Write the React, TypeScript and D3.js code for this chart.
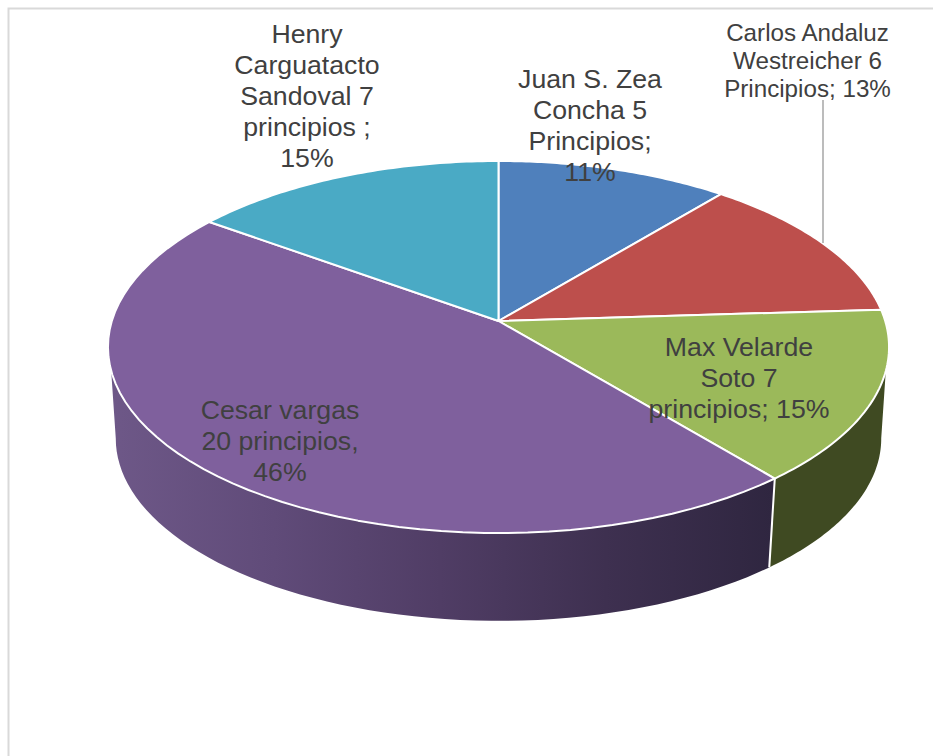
import React from "react";
import * as d3 from "d3";

const categories = ["Juan S. Zea Concha", "Carlos Andaluz Westreicher", "Max Velarde Soto", "Cesar vargas", "Henry Carguatacto Sandoval"];
const shares = [11, 13, 15, 46, 15];
const topColors = ["#4f80bc", "#bd4f4c", "#9bb95a", "#7f609d", "#4aaac5"];
const labelLines = [
  ["Juan S. Zea", "Concha 5", "Principios;", "11%"],
  ["Carlos Andaluz", "Westreicher 6", "Principios; 13%"],
  ["Max Velarde", "Soto 7", "principios; 15%"],
  ["Cesar vargas", "20 principios,", "46%"],
  ["Henry", "Carguatacto", "Sandoval 7", "principios ;", "15%"],
];
const labelPlace = [
  { x: 590, y: 88, dy: 31, size: 26.7 },
  { x: 807.5, y: 41, dy: 28, size: 24.2 },
  { x: 739, y: 356, dy: 31, size: 26.7 },
  { x: 280, y: 419, dy: 31, size: 26.7 },
  { x: 307, y: 43, dy: 31, size: 26.7 },
];

const W = 933, H = 756;
const CX = 498.5, CY = 321, A = 386.7, B = 182.4, PERSP = 0.14;
const SCALE = 0.98, DROP = 92;
const WALL_TOP = [(105.3 * Math.PI) / 180, (254.7 * Math.PI) / 180];
const WALL_BOTTOM = [(98 * Math.PI) / 180, (262 * Math.PI) / 180];

type P = [number, number];
const project = (a: number, lower = false): P => {
  const den = 1 + PERSP * Math.cos(a);
  const s = lower ? SCALE : 1;
  return [CX + (s * A * Math.sin(a)) / den, CY + (lower ? DROP : 0) - (s * B * Math.cos(a)) / den];
};
const arcPoints = (a0: number, a1: number, lower = false): P[] =>
  d3.range(0, 61).map((i) => project(a0 + ((a1 - a0) * i) / 60, lower));

const pieGen = d3.pie<number>().sort(null).value((d) => d);
const slices = pieGen(shares);
const line = d3.line<P>().x((d) => d[0]).y((d) => d[1]);

const wall = (a0: number, a1: number) => {
  const up0 = Math.max(a0, WALL_TOP[0]), up1 = Math.min(a1, WALL_TOP[1]);
  const lo0 = Math.max(a0, WALL_BOTTOM[0]), lo1 = Math.min(a1, WALL_BOTTOM[1]);
  return line([...arcPoints(up0, up1), ...arcPoints(lo0, lo1, true).reverse()])! + "Z";
};

const gradStops: [number, string][] = [
  [0, "#6e5888"],
  [0.25, "#604b79"],
  [0.5, "#503d65"],
  [0.75, "#3e3050"],
  [1, "#2f2640"],
];

export default function App() {
  const purple = slices[3], green = slices[2];
  const edge = project(green.endAngle);
  const edgeLow = project(green.endAngle, true);
  return (
    <svg width={W} height={H} style={{ position: "absolute", left: 0, top: 0, background: "#fff" }}>
      <defs>
        <linearGradient id="purpleWall" gradientUnits="userSpaceOnUse" x1={108} x2={772} y1={0} y2={0}>
          {gradStops.map(([o, c]) => <stop key={o} offset={o} stopColor={c} />)}
        </linearGradient>
      </defs>
      <path d={`M${8.5} ${H}V${8.5}H${W}`} fill="none" stroke="#d9d9d9" strokeWidth={2} />
      <path d={wall(green.startAngle, green.endAngle)} fill="#3f4a22" />
      <path d={wall(purple.startAngle, purple.endAngle)} fill="url(#purpleWall)" />
      <path d={line([edge, edgeLow])!} stroke="#fff" strokeWidth={2} fill="none" />
      {slices.map((s, i) => (
        <path
          key={categories[i]}
          d={line([[CX, CY], ...arcPoints(s.startAngle, s.endAngle)])! + "Z"}
          fill={topColors[i]}
          stroke="#fff"
          strokeWidth={2}
          strokeLinejoin="round"
        />
      ))}
      <line x1={823} x2={823} y1={100} y2={243} stroke="#a6a6a6" strokeWidth={1.5} />
      {labelLines.map((ls, i) => (
        <text
          key={categories[i]}
          textAnchor="middle"
          fontFamily="'Liberation Sans', Arial, sans-serif"
          fontSize={labelPlace[i].size}
          fill="#404040"
        >
          {ls.map((t, j) => (
            <tspan key={j} x={labelPlace[i].x} y={labelPlace[i].y + j * labelPlace[i].dy}>{t}</tspan>
          ))}
        </text>
      ))}
    </svg>
  );
}
